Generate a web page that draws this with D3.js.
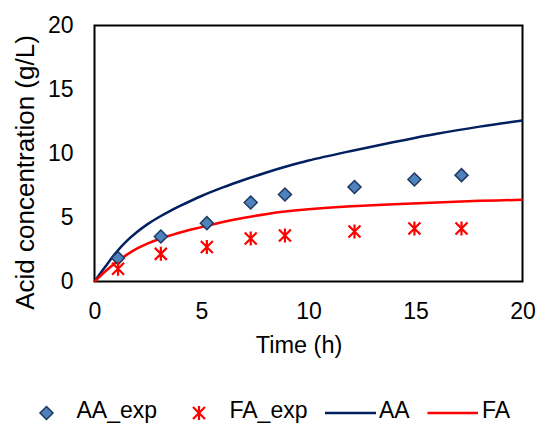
<!DOCTYPE html>
<html>
<head>
<meta charset="utf-8">
<script src="https://cdn.jsdelivr.net/npm/d3@7"></script>
<style>
  body { margin: 0; background: #fff; }
  text { font-family: "Liberation Sans", Arial, sans-serif; fill: #000; }
</style>
</head>
<body>
<svg id="chart" width="538" height="423"></svg>
<script>
// experimental points
const expTime = [1.1, 3.1, 5.25, 7.3, 8.9, 12.15, 14.95, 17.15];
const aaExp = [1.83, 3.52, 4.56, 6.17, 6.8, 7.38, 7.97, 8.31];
const faExp = [1.0, 2.16, 2.7, 3.36, 3.6, 3.9, 4.14, 4.14];

// model curves
const modelTime = [0, 0.5, 1, 1.5, 2, 2.5, 3, 3.5, 4, 5, 6, 7, 8, 9, 10, 12, 14, 16, 18, 20];
const aaModel = [0, 1.15, 2.25, 3.15, 3.88, 4.5, 5.02, 5.48, 5.9, 6.68, 7.35, 7.95, 8.5, 9.0, 9.45, 10.2, 10.9, 11.55, 12.1, 12.58];
const faModel = [0, 0.78, 1.48, 2.08, 2.58, 2.98, 3.3, 3.57, 3.83, 4.25, 4.65, 4.98, 5.26, 5.48, 5.64, 5.87, 6.04, 6.18, 6.3, 6.38];

const xTicks = [0, 5, 10, 15, 20];
const yTicks = [0, 5, 10, 15, 20];

const svg = d3.select("#chart");
const plotLeft = 94.5, plotRight = 522.5, plotTop = 25.5, plotBottom = 281.5;

const x = d3.scaleLinear().domain([0, 20]).range([plotLeft, plotRight]);
const y = d3.scaleLinear().domain([0, 20]).range([plotBottom, plotTop]);

const aaColor = "#002060";
const faColor = "#FF0000";

// plot frame
svg.append("rect")
    .attr("x", plotLeft).attr("y", plotTop)
    .attr("width", plotRight - plotLeft).attr("height", plotBottom - plotTop)
    .attr("fill", "none").attr("stroke", "#000").attr("stroke-width", 2);

// axes labels (no tick marks)
const xAxis = svg.append("g")
    .attr("transform", "translate(0,303)")
    .call(d3.axisBottom(x).tickValues(xTicks).tickSize(0).tickPadding(0));
xAxis.select(".domain").remove();
xAxis.selectAll("text").attr("font-size", 23).attr("dy", "0.71em")
    .style("font-family", "Liberation Sans, Arial, sans-serif");

const yAxis = svg.append("g")
    .attr("transform", "translate(73.5,0)")
    .call(d3.axisLeft(y).tickValues(yTicks).tickSize(0).tickPadding(0));
yAxis.select(".domain").remove();
yAxis.selectAll("text").attr("font-size", 23)
    .style("font-family", "Liberation Sans, Arial, sans-serif");

svg.append("text")
    .attr("x", 299).attr("y", 353)
    .attr("text-anchor", "middle").attr("font-size", 23.5)
    .text("Time (h)");

svg.append("text")
    .attr("transform", "translate(33.5,172.5) rotate(-90)")
    .attr("text-anchor", "middle").attr("font-size", 26)
    .text("Acid concentration (g/L)");

// model lines
const line = d3.line()
    .x(d => x(d[0]))
    .y(d => y(d[1]))
    .curve(d3.curveCatmullRom.alpha(0.5));

svg.append("path")
    .datum(modelTime.map((t, i) => [t, aaModel[i]]))
    .attr("d", line)
    .attr("fill", "none").attr("stroke", aaColor).attr("stroke-width", 2.5);

svg.append("path")
    .datum(modelTime.map((t, i) => [t, faModel[i]]))
    .attr("d", line)
    .attr("fill", "none").attr("stroke", faColor).attr("stroke-width", 2.5);

// markers
const diamond = "M0,-6.5L6.5,0L0,6.5L-6.5,0Z";
const star = "M-6,-6L6,6M-6,6L6,-6M0,-7L0,7";

svg.selectAll(".aa").data(expTime).enter()
    .append("path")
    .attr("class", "aa")
    .attr("transform", (d, i) => "translate(" + x(d) + "," + y(aaExp[i]) + ")")
    .attr("d", diamond)
    .attr("fill", "#4F81BD").attr("stroke", "#1F3A60").attr("stroke-width", 1.5);

svg.selectAll(".fa").data(expTime).enter()
    .append("path")
    .attr("class", "fa")
    .attr("transform", (d, i) => "translate(" + x(d) + "," + y(faExp[i]) + ")")
    .attr("d", star)
    .attr("fill", "none").attr("stroke", faColor).attr("stroke-width", 2.2);

// legend
const legendY = 413;
const textY = 418;
const legend = svg.append("g");

legend.append("path")
    .attr("transform", "translate(46.5," + legendY + ")")
    .attr("d", diamond)
    .attr("fill", "#4F81BD").attr("stroke", "#1F3A60").attr("stroke-width", 1.5);
legend.append("text").attr("x", 76.5).attr("y", textY).attr("font-size", 23).text("AA_exp");

legend.append("path")
    .attr("transform", "translate(199," + legendY + ")")
    .attr("d", star)
    .attr("fill", "none").attr("stroke", faColor).attr("stroke-width", 2.2);
legend.append("text").attr("x", 229.5).attr("y", textY).attr("font-size", 23).text("FA_exp");

legend.append("line")
    .attr("x1", 325).attr("x2", 376).attr("y1", legendY).attr("y2", legendY)
    .attr("stroke", aaColor).attr("stroke-width", 2.5);
legend.append("text").attr("x", 379).attr("y", textY).attr("font-size", 23).text("AA");

legend.append("line")
    .attr("x1", 427.5).attr("x2", 478).attr("y1", legendY).attr("y2", legendY)
    .attr("stroke", faColor).attr("stroke-width", 2.5);
legend.append("text").attr("x", 482).attr("y", textY).attr("font-size", 23).text("FA");
</script>
</body>
</html>
